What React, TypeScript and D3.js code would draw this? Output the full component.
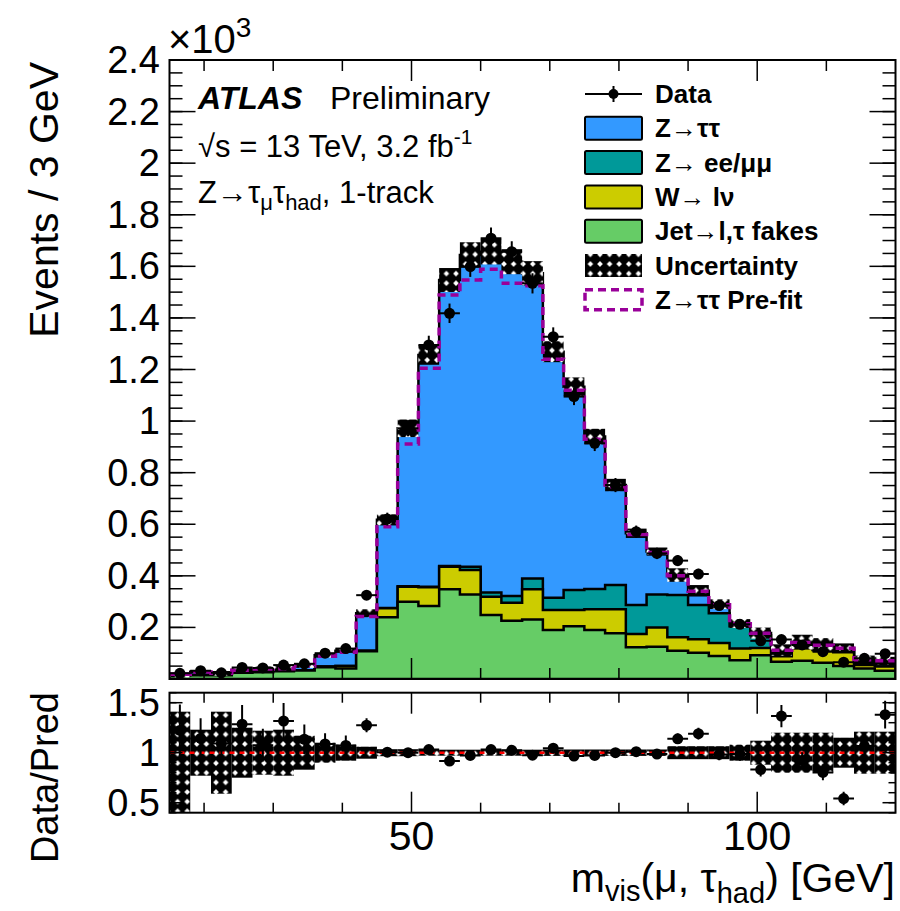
import React from "react";
import * as d3 from "d3";

// Bin edges of the visible-mass histogram [GeV]
const binEdges = [
  15, 18, 21, 24, 27, 30, 33, 36, 39, 42, 45, 48, 51, 54, 57, 60, 63, 66, 69,
  72, 75, 78, 81, 84, 87, 90, 93, 96, 99, 102, 105, 108, 111, 114, 117, 120,
];

// Post-fit background contributions, events per bin (x10^3)
const jetFakes = [
  0.014, 0.015, 0.015, 0.024, 0.026, 0.03, 0.033, 0.046, 0.041, 0.108, 0.239,
  0.3, 0.283, 0.348, 0.328, 0.248, 0.226, 0.231, 0.19, 0.205, 0.19, 0.177,
  0.123, 0.125, 0.11, 0.102, 0.089, 0.073, 0.092, 0.067, 0.071, 0.063, 0.05,
  0.041, 0.032,
];
const wLepNu = [
  0.0005, 0.0005, 0.0005, 0.001, 0.001, 0.001, 0.001, 0.002, 0.009, 0.002,
  0.035, 0.058, 0.073, 0.087, 0.095, 0.071, 0.07, 0.117, 0.078, 0.063, 0.08,
  0.093, 0.051, 0.075, 0.052, 0.052, 0.051, 0.045, 0.028, 0.021, 0.049, 0.049,
  0.054, 0.013, 0.016,
];
const zLepLep = [
  0, 0, 0, 0, 0, 0, 0, 0, 0, 0, 0.001, 0.002, 0.002, 0.003, 0.012, 0.016,
  0.026, 0.042, 0.047, 0.077, 0.079, 0.094, 0.113, 0.128, 0.164, 0.133, 0.115,
  0.087, 0.05, 0.012, 0.01, 0.01, 0.008, 0.008, 0.008,
];
const zTauTau = [
  0.0035, 0.0125, 0.0065, 0.01, 0.013, 0.01, 0.018, 0.044, 0.06, 0.145, 0.342,
  0.612, 0.898, 1.109, 1.209, 1.322, 1.296, 1.183, 0.954, 0.788, 0.591, 0.388,
  0.278, 0.166, 0.077, 0.055, 0.035, 0.01, 0.008, 0.012, 0.013, 0.01, 0.008,
  0.013, 0.015,
];
// Z->tautau before the fit
const zTauTauPrefit = [
  0.0035, 0.0115, 0.0065, 0.009, 0.012, 0.009, 0.016, 0.04, 0.054, 0.132,
  0.315, 0.551, 0.847, 1.051, 1.112, 1.254, 1.212, 1.135, 0.925, 0.775, 0.581,
  0.381, 0.273, 0.162, 0.074, 0.053, 0.033, 0.009, 0.007, 0.011, 0.012, 0.009,
  0.007, 0.013, 0.015,
];
// Observed events (x10^3)
const dataCounts = [
  0.022, 0.032, 0.024, 0.045, 0.043, 0.054, 0.059, 0.1, 0.118, 0.325, 0.62,
  0.972, 1.295, 1.418, 1.599, 1.709, 1.657, 1.534, 1.327, 1.095, 0.914, 0.752,
  0.571, 0.487, 0.459, 0.407, 0.285, 0.212, 0.148, 0.153, 0.132, 0.106, 0.065,
  0.08, 0.098,
];
// Relative uncertainty of the prediction (up / down)
const uncUp = [
  0.41, 0.23, 0.41, 0.25, 0.22, 0.23, 0.17, 0.1, 0.08, 0.06, 0.035, 0.035,
  0.03, 0.03, 0.03, 0.03, 0.03, 0.03, 0.032, 0.032, 0.032, 0.032, 0.032,
  0.032, 0.065, 0.065, 0.065, 0.08, 0.12, 0.2, 0.2, 0.2, 0.15, 0.21, 0.21,
];
const uncDown = [
  0.65, 0.23, 0.41, 0.25, 0.22, 0.23, 0.17, 0.1, 0.08, 0.06, 0.035, 0.035,
  0.03, 0.03, 0.03, 0.03, 0.03, 0.03, 0.032, 0.032, 0.032, 0.032, 0.032,
  0.032, 0.065, 0.065, 0.065, 0.08, 0.12, 0.2, 0.2, 0.2, 0.15, 0.21, 0.21,
];

const mainYTicks = [0.2, 0.4, 0.6, 0.8, 1, 1.2, 1.4, 1.6, 1.8, 2, 2.2, 2.4];
const ratioYTicks = [0.5, 1, 1.5];
const xMajorTicks = [50, 100];
const xMinorTicks = [20, 30, 40, 60, 70, 80, 90, 110];

const COLORS = {
  ztt: "#3399ff",
  zll: "#009999",
  wln: "#cccc00",
  fake: "#66cc66",
  prefit: "#990099",
};
const FONT = "'Liberation Sans', Arial, Helvetica, sans-serif";

function stepPath(
  vals: number[],
  xs: d3.ScaleLinear<number, number>,
  ys: d3.ScaleLinear<number, number>,
  closed: boolean
) {
  const p = d3.path();
  const base = ys(0);
  if (closed) {
    p.moveTo(xs(binEdges[0]), base);
    p.lineTo(xs(binEdges[0]), ys(vals[0]));
  } else {
    p.moveTo(xs(binEdges[0]), ys(vals[0]));
  }
  vals.forEach((v, i) => {
    if (i > 0) p.lineTo(xs(binEdges[i]), ys(v));
    p.lineTo(xs(binEdges[i + 1]), ys(v));
  });
  if (closed) {
    p.lineTo(xs(binEdges[vals.length]), base);
    p.closePath();
  }
  return p.toString();
}

export default function App() {
  const x = d3.scaleLinear().domain([15, 120]).range([169.5, 895.5]);
  const y = d3.scaleLinear().domain([0, 2.4]).range([679, 60]);
  const yr = d3.scaleLinear().domain([0.4, 1.6]).range([812.7, 692.7]);

  const cumFake = jetFakes;
  const cumW = cumFake.map((v, i) => v + wLepNu[i]);
  const cumZll = cumW.map((v, i) => v + zLepLep[i]);
  const total = cumZll.map((v, i) => v + zTauTau[i]);
  const prefitTotal = cumZll.map((v, i) => v + zTauTauPrefit[i]);

  const centers = dataCounts.map((_, i) => (binEdges[i] + binEdges[i + 1]) / 2);
  const dataErr = dataCounts.map((v) => Math.sqrt(v * 1000) / 1000);

  const mainL = x.range()[0];
  const mainR = x.range()[1];
  const mainT = y(2.4);
  const mainB = y(0);
  const ratT = yr(1.6);
  const ratB = yr(0.4);

  const minorMainY = y.ticks(48);
  const minorRatioY = yr.ticks(12);

  const stacks = [
    { vals: total, fill: COLORS.ztt },
    { vals: cumZll, fill: COLORS.zll },
    { vals: cumW, fill: COLORS.wln },
    { vals: cumFake, fill: COLORS.fake },
  ];

  const legendRows = [
    { kind: "data", label: "Data" },
    { kind: "box", fill: COLORS.ztt, label: "Z→ττ" },
    { kind: "box", fill: COLORS.zll, label: "Z→ ee/μμ" },
    { kind: "box", fill: COLORS.wln, label: "W→ lν" },
    { kind: "box", fill: COLORS.fake, label: "Jet→l,τ fakes" },
    { kind: "unc", label: "Uncertainty" },
    { kind: "prefit", label: "Z→ττ Pre-fit" },
  ];

  return (
    <svg
      width={900}
      height={911}
      style={{ position: "absolute", left: 0, top: 0, background: "white" }}
      fontFamily={FONT}
    >
      <defs>
        <pattern
          id="uncPattern"
          patternUnits="userSpaceOnUse"
          width={9.6}
          height={9.6}
        >
          <rect width={9.6} height={9.6} fill="black" />
          <path d="M4.8 2 L7.6 4.8 L4.8 7.6 L2 4.8 Z" fill="white" />
        </pattern>
        <clipPath id="mainClip">
          <rect x={mainL} y={mainT} width={mainR - mainL} height={mainB - mainT} />
        </clipPath>
        <clipPath id="ratioClip">
          <rect x={mainL} y={ratT} width={mainR - mainL} height={ratB - ratT} />
        </clipPath>
      </defs>

      <rect x={0} y={0} width={900} height={911} fill="white" />

      {/* main pane */}
      <g clipPath="url(#mainClip)">
        {stacks.map((s, k) => (
          <path
            key={k}
            d={stepPath(s.vals, x, y, true)}
            fill={s.fill}
            stroke="black"
            strokeWidth={2.5}
            strokeLinejoin="miter"
          />
        ))}
        {total.map((t, i) => (
          <rect
            key={i}
            x={x(binEdges[i])}
            width={x(binEdges[i + 1]) - x(binEdges[i])}
            y={y(t * (1 + uncUp[i]))}
            height={y(t * (1 - uncDown[i])) - y(t * (1 + uncUp[i]))}
            fill="url(#uncPattern)"
          />
        ))}
        <path
          d={stepPath(prefitTotal, x, y, false)}
          fill="none"
          stroke={COLORS.prefit}
          strokeWidth={3.5}
          strokeDasharray="8 5"
        />
        {dataCounts.map((v, i) => (
          <g key={i}>
            <line
              x1={x(binEdges[i])}
              x2={x(binEdges[i + 1])}
              y1={y(v)}
              y2={y(v)}
              stroke="black"
              strokeWidth={2}
            />
            <line
              x1={x(centers[i])}
              x2={x(centers[i])}
              y1={y(v - dataErr[i])}
              y2={y(v + dataErr[i])}
              stroke="black"
              strokeWidth={2}
            />
            <circle cx={x(centers[i])} cy={y(v)} r={5.5} fill="black" />
          </g>
        ))}
      </g>

      {/* main pane axes */}
      <g stroke="black" strokeWidth={1.5}>
        {minorMainY.map((t) => (
          <g key={"my" + t}>
            <line x1={mainL} x2={mainL + 13} y1={y(t)} y2={y(t)} />
            <line x1={mainR} x2={mainR - 13} y1={y(t)} y2={y(t)} />
          </g>
        ))}
        {mainYTicks.map((t) => (
          <g key={"My" + t}>
            <line x1={mainL} x2={mainL + 26} y1={y(t)} y2={y(t)} />
            <line x1={mainR} x2={mainR - 26} y1={y(t)} y2={y(t)} />
          </g>
        ))}
        {xMinorTicks.map((t) => (
          <g key={"mx" + t}>
            <line x1={x(t)} x2={x(t)} y1={mainB} y2={mainB - 11} />
            <line x1={x(t)} x2={x(t)} y1={mainT} y2={mainT + 11} />
          </g>
        ))}
        {xMajorTicks.map((t) => (
          <g key={"Mx" + t}>
            <line x1={x(t)} x2={x(t)} y1={mainB} y2={mainB - 21} />
            <line x1={x(t)} x2={x(t)} y1={mainT} y2={mainT + 21} />
          </g>
        ))}
        <rect
          x={mainL}
          y={mainT}
          width={mainR - mainL}
          height={mainB - mainT}
          fill="none"
          strokeWidth={2}
        />
      </g>
      <g fontSize={38} textAnchor="end">
        {mainYTicks.map((t) => (
          <text key={t} x={160} y={y(t) + 13}>
            {String(+t.toFixed(1))}
          </text>
        ))}
      </g>
      <text x={168} y={53} fontSize={40}>
        ×10
        <tspan fontSize={28} dy={-16}>
          3
        </tspan>
      </text>
      <text
        transform="translate(58,62) rotate(-90)"
        textAnchor="end"
        fontSize={41}
      >
        Events / 3 GeV
      </text>

      {/* labels inside the main pane */}
      <text x={198} y={109} fontSize={32} fontWeight="bold" fontStyle="italic">
        ATLAS
      </text>
      <text x={330} y={109} fontSize={32}>
        Preliminary
      </text>
      <text x={198} y={157} fontSize={31}>
        √s = 13 TeV, 3.2 fb
        <tspan fontSize={21} dy={-13}>
          -1
        </tspan>
      </text>
      <text x={198} y={203} fontSize={31}>
        Z→τ
        <tspan fontSize={22} dy={7}>
          μ
        </tspan>
        <tspan dy={-7}>τ</tspan>
        <tspan fontSize={22} dy={7}>
          had
        </tspan>
        <tspan dy={-7}>, 1-track</tspan>
      </text>

      {/* legend */}
      {legendRows.map((r, i) => {
        const cy = 94 + i * 34.3;
        const x0 = 585;
        const x1 = 642;
        return (
          <g key={i}>
            {r.kind === "data" && (
              <g stroke="black" strokeWidth={2}>
                <line x1={x0} x2={x1} y1={cy} y2={cy} />
                <line x1={(x0 + x1) / 2} x2={(x0 + x1) / 2} y1={cy - 8} y2={cy + 8} />
                <circle cx={(x0 + x1) / 2} cy={cy} r={5} fill="black" stroke="none" />
              </g>
            )}
            {r.kind === "box" && (
              <rect
                x={x0}
                y={cy - 11.5}
                width={x1 - x0}
                height={23}
                rx={1.5}
                fill={r.fill}
                stroke="black"
                strokeWidth={2}
              />
            )}
            {r.kind === "unc" && (
              <rect
                x={x0}
                y={cy - 11.5}
                width={x1 - x0}
                height={23}
                fill="url(#uncPattern)"
              />
            )}
            {r.kind === "prefit" && (
              <rect
                x={x0}
                y={cy - 10}
                width={x1 - x0}
                height={20}
                fill="none"
                stroke={COLORS.prefit}
                strokeWidth={3.5}
                strokeDasharray="8 5"
              />
            )}
            <text x={655} y={cy + 9} fontSize={26} fontWeight="bold">
              {r.label}
            </text>
          </g>
        );
      })}

      {/* ratio pane */}
      <g clipPath="url(#ratioClip)">
        {total.map((t, i) => (
          <rect
            key={i}
            x={x(binEdges[i])}
            width={x(binEdges[i + 1]) - x(binEdges[i])}
            y={yr(1 + uncUp[i])}
            height={yr(1 - uncDown[i]) - yr(1 + uncUp[i])}
            fill="url(#uncPattern)"
          />
        ))}
        <line
          x1={mainL}
          x2={mainR}
          y1={yr(1)}
          y2={yr(1)}
          stroke="#ff0000"
          strokeWidth={2.5}
          strokeDasharray="5 5"
        />
        {dataCounts.map((v, i) => {
          const r = v / total[i];
          const e = dataErr[i] / total[i];
          return (
            <g key={i}>
              <line
                x1={x(binEdges[i])}
                x2={x(binEdges[i + 1])}
                y1={yr(r)}
                y2={yr(r)}
                stroke="black"
                strokeWidth={2}
              />
              <line
                x1={x(centers[i])}
                x2={x(centers[i])}
                y1={yr(r - e)}
                y2={yr(r + e)}
                stroke="black"
                strokeWidth={2}
              />
              <circle cx={x(centers[i])} cy={yr(r)} r={5.5} fill="black" />
            </g>
          );
        })}
      </g>
      <g stroke="black" strokeWidth={1.5}>
        {minorRatioY.map((t) => (
          <g key={"ry" + t}>
            <line x1={mainL} x2={mainL + 7} y1={yr(t)} y2={yr(t)} />
            <line x1={mainR} x2={mainR - 7} y1={yr(t)} y2={yr(t)} />
          </g>
        ))}
        {ratioYTicks.map((t) => (
          <g key={"Ry" + t}>
            <line x1={mainL} x2={mainL + 13} y1={yr(t)} y2={yr(t)} />
            <line x1={mainR} x2={mainR - 13} y1={yr(t)} y2={yr(t)} />
          </g>
        ))}
        {xMinorTicks.map((t) => (
          <g key={"rx" + t}>
            <line x1={x(t)} x2={x(t)} y1={ratB} y2={ratB - 10} />
            <line x1={x(t)} x2={x(t)} y1={ratT} y2={ratT + 10} />
          </g>
        ))}
        {xMajorTicks.map((t) => (
          <g key={"Rx" + t}>
            <line x1={x(t)} x2={x(t)} y1={ratB} y2={ratB - 21} />
            <line x1={x(t)} x2={x(t)} y1={ratT} y2={ratT + 21} />
          </g>
        ))}
        <rect
          x={mainL}
          y={ratT}
          width={mainR - mainL}
          height={ratB - ratT}
          fill="none"
          strokeWidth={2}
        />
      </g>
      <g fontSize={38} textAnchor="end">
        {ratioYTicks.map((t) => (
          <text key={t} x={160} y={yr(t) + 13}>
            {String(t)}
          </text>
        ))}
      </g>
      <g fontSize={41} textAnchor="middle">
        {xMajorTicks.map((t) => (
          <text key={t} x={x(t)} y={850}>
            {String(t)}
          </text>
        ))}
      </g>
      <text
        transform="translate(58,692) rotate(-90)"
        textAnchor="end"
        fontSize={38}
      >
        Data/Pred
      </text>
      <text x={895} y={892} textAnchor="end" fontSize={41}>
        m
        <tspan fontSize={29} dy={9}>
          vis
        </tspan>
        <tspan dy={-9}>(μ, τ</tspan>
        <tspan fontSize={29} dy={11}>
          had
        </tspan>
        <tspan dy={-11}>) [GeV]</tspan>
      </text>
    </svg>
  );
}
